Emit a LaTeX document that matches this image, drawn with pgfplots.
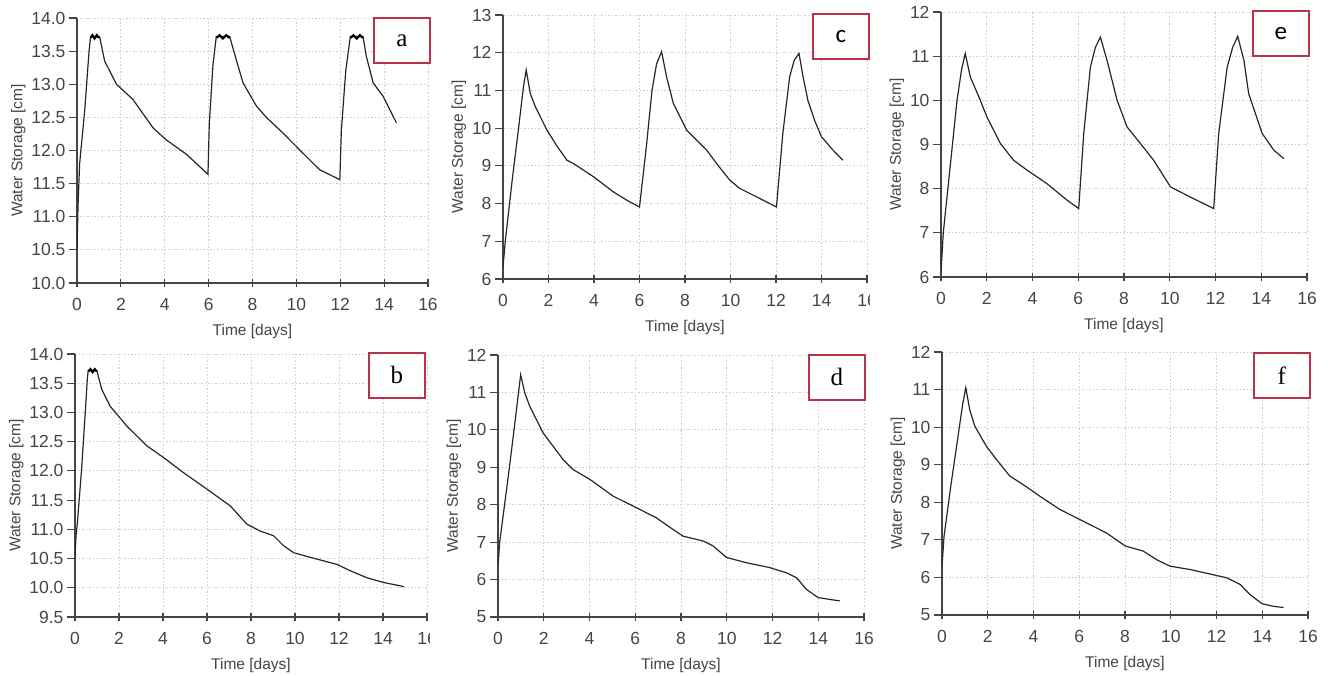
\documentclass[border=0pt]{standalone}
\usepackage{fontspec}
\setmainfont{Liberation Sans}
\newfontfamily\boxserif{Liberation Serif}
\newfontfamily\boxsans{Carlito}
\usepackage{pgfplots}
\pgfplotsset{compat=1.18}
\definecolor{axgray}{HTML}{454545}
\definecolor{gridgray}{HTML}{CDCDCD}
\definecolor{boxred}{HTML}{B8324A}

\pgfplotsset{
  wsplot/.style={
    scale only axis,
    anchor=south west,
    axis lines=left,
    axis line style={-, axgray, line width=1.3pt},
    xmin=0, xmax=16, xtick={0,2,...,16},
    grid=major,
    major grid style={gridgray, line width=0.9pt, dash pattern=on 1.5pt off 2pt},
    x tick style={axgray, line width=1.2pt},
    y tick style={axgray, line width=1.2pt},
    xtick align=center,
    ytick align=outside,
    major tick length=8pt,
    tick label style={font=\fontsize{17.5}{19}\selectfont, text=axgray},
    label style={font=\fontsize{15.5}{17}\selectfont, text=axgray},
    xlabel={Time [days]},
    ylabel={Water Storage [cm]},
    /pgf/number format/assume math mode=true,
    xticklabel style={yshift=-8pt},
    xlabel style={yshift=-6pt},
    ylabel style={yshift=-1pt},
  },
  wsline/.style={black!85, line width=1.2pt, mark=none},
  blob/.style={black, line width=2.2pt, mark=none},
}

\begin{document}
\begin{tikzpicture}
\useasboundingbox (0pt,0pt) rectangle (1328pt,-676pt);

% ---- a ----
\begin{axis}[wsplot, at={(77pt,-283pt)}, width=351pt, height=265pt,
  ymin=10, ymax=14, ytick={10,10.5,...,14},
  yticklabel style={/pgf/number format/.cd, fixed, fixed zerofill, precision=1}]
\addplot[wsline] coordinates {
(0,10.5) (0.05,11.2) (0.12,11.8) (0.35,12.6) (0.55,13.5) (0.62,13.72)
(1.0,13.72)
(1.03,13.72) (1.26,13.35) (1.8,13.0) (2.55,12.77) (3.47,12.34) (4.07,12.16) (5.0,11.94) (5.97,11.64)
(6.03,12.4) (6.2,13.3) (6.35,13.72)
(6.96,13.72)
(7.26,13.37) (7.57,13.02) (8.18,12.67) (8.63,12.5) (9.4,12.26) (10.15,12.01) (11.06,11.71) (11.98,11.56)
(12.05,12.3) (12.25,13.2) (12.46,13.72)
(13.04,13.72)
(13.19,13.42) (13.5,13.02) (13.95,12.82) (14.56,12.42)
};
\addplot[blob] coordinates {(0.62,13.7) (0.7,13.74) (0.8,13.69) (0.9,13.74) (1.0,13.7)};
\addplot[blob] coordinates {(6.36,13.7) (6.5,13.74) (6.65,13.69) (6.8,13.74) (6.96,13.7)};
\addplot[blob] coordinates {(12.47,13.7) (12.6,13.74) (12.75,13.69) (12.9,13.74) (13.03,13.7)};
\end{axis}

% ---- c ----
\begin{axis}[wsplot, at={(503pt,-279pt)}, width=364pt, height=264pt,
  ymin=6, ymax=13, ytick={6,7,...,13}]
\addplot[wsline] coordinates {
(0,6.32) (0.1,7.0) (0.4,8.6) (0.69,10.03) (0.9,11.1) (1.02,11.54)
(1.2,10.92) (1.42,10.57) (1.93,9.95) (2.4,9.5) (2.81,9.15) (3.1,9.06) (3.98,8.71) (4.85,8.31) (5.44,8.09) (6.0,7.91)
(6.3,9.5) (6.55,11.0) (6.75,11.7) (6.97,12.03)
(7.19,11.36) (7.49,10.65) (8.07,9.95) (8.95,9.42) (9.39,9.06) (9.97,8.62) (10.41,8.4) (11.14,8.18) (12.02,7.91)
(12.3,9.86) (12.6,11.36) (12.8,11.8) (13.01,11.98)
(13.19,11.36) (13.4,10.74) (13.7,10.2) (14.0,9.77) (14.5,9.42) (14.94,9.15)
};
\end{axis}

% ---- e ----
\begin{axis}[wsplot, at={(941pt,-277pt)}, width=366pt, height=265pt,
  ymin=6, ymax=12, ytick={6,7,...,12}]
\addplot[wsline] coordinates {
(0,6.11) (0.1,7.0) (0.4,8.5) (0.7,10.0) (0.9,10.7) (1.06,11.06)
(1.28,10.53) (1.72,10.0) (2.01,9.62) (2.6,9.02) (3.18,8.64) (3.76,8.42) (4.64,8.11) (5.51,7.74) (6.02,7.55)
(6.24,9.25) (6.53,10.75) (6.75,11.2) (6.97,11.43)
(7.26,10.9) (7.7,10.0) (8.13,9.4) (8.72,9.02) (9.3,8.64) (10.03,8.04) (10.9,7.81) (11.92,7.55)
(12.14,9.25) (12.51,10.75) (12.75,11.2) (12.97,11.45)
(13.24,10.91) (13.45,10.15) (14.04,9.25) (14.55,8.87) (14.99,8.68)
};
\end{axis}

% ---- b ----
\begin{axis}[wsplot, at={(75pt,-617pt)}, width=352pt, height=263pt,
  ymin=9.5, ymax=14, ytick={9.5,10,...,14},
  yticklabel style={/pgf/number format/.cd, fixed, fixed zerofill, precision=1}]
\addplot[wsline] coordinates {
(0,10.52) (0.05,10.9) (0.11,11.12) (0.3,12.03) (0.45,12.9) (0.56,13.57) (0.6,13.72)
(0.99,13.72)
(1.21,13.4) (1.59,13.11) (2.35,12.77) (3.26,12.43) (4.02,12.23) (4.93,11.97) (5.99,11.69) (7.06,11.4)
(7.81,11.09) (8.42,10.97) (9.03,10.89) (9.48,10.72) (9.94,10.6) (10.7,10.52) (11.91,10.4) (12.52,10.29)
(13.28,10.17) (14.04,10.09) (14.95,10.02)
};
\addplot[blob] coordinates {(0.61,13.7) (0.7,13.74) (0.8,13.69) (0.9,13.74) (0.99,13.7)};
\end{axis}

% ---- d ----
\begin{axis}[wsplot, at={(498pt,-617pt)}, width=366pt, height=262pt,
  ymin=5, ymax=12, ytick={5,6,...,12}]
\addplot[wsline] coordinates {
(0,6.36) (0.07,6.98) (0.5,9.0) (0.8,10.5) (0.99,11.47)
(1.17,10.99) (1.38,10.64) (1.97,9.92) (2.84,9.21) (3.28,8.94) (4.01,8.68) (5.03,8.23) (6.05,7.92)
(6.92,7.65) (7.65,7.34) (8.09,7.16) (8.97,7.03) (9.4,6.9) (9.99,6.59) (10.86,6.45) (11.88,6.32)
(12.61,6.18) (13.05,6.05) (13.48,5.74) (13.99,5.52) (14.5,5.47) (14.94,5.43)
};
\end{axis}

% ---- f ----
\begin{axis}[wsplot, at={(942pt,-615pt)}, width=366pt, height=263pt,
  ymin=5, ymax=12, ytick={5,6,...,12}]
\addplot[wsline] coordinates {
(0,6.3) (0.09,7.1) (0.4,8.5) (0.7,9.75) (0.9,10.6) (1.04,11.05)
(1.21,10.47) (1.43,10.03) (1.94,9.49) (2.38,9.14) (2.96,8.7) (3.55,8.47) (4.28,8.16) (5.15,7.81)
(6.03,7.54) (7.2,7.18) (8.0,6.84) (8.8,6.7) (9.39,6.47) (9.97,6.3) (10.85,6.21) (11.87,6.07)
(12.45,5.99) (13.04,5.81) (13.47,5.54) (13.99,5.3) (14.5,5.23) (14.93,5.2)
};
\end{axis}

% crop edges of the original panels
\fill[white] (430pt,-340pt) rectangle (440pt,-676pt);
\fill[white] (870pt,-240pt) rectangle (878pt,-336pt);

% panel letters
\tikzset{lbox/.style={draw=boxred, line width=1.6pt, fill=white, minimum width=56pt, minimum height=45pt, inner sep=0pt, anchor=north west}}
\node[lbox, font=\boxserif\fontsize{25}{27}\selectfont] at (373pt,-17pt) {a};
\node[lbox, font=\boxsans\fontsize{25}{27}\selectfont] at (812pt,-13pt) {c};
\node[lbox, font=\boxsans\fontsize{25}{27}\selectfont] at (1252pt,-10pt) {e};
\node[lbox, font=\boxserif\fontsize{25}{27}\selectfont] at (368pt,-352pt) {b};
\node[lbox, font=\boxserif\fontsize{25}{27}\selectfont] at (808pt,-354pt) {d};
\node[lbox, font=\boxserif\fontsize{25}{27}\selectfont] at (1253pt,-352pt) {f};
\end{tikzpicture}
\end{document}
